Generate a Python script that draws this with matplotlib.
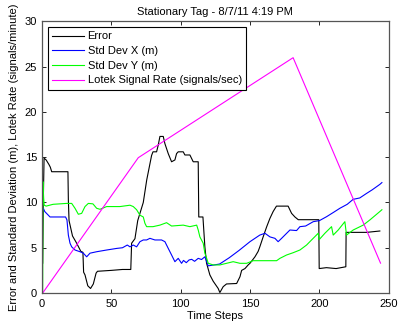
import matplotlib
matplotlib.use("Agg")
import matplotlib.pyplot as plt

plt.rcParams['font.family'] = ['Liberation Sans', 'DejaVu Sans']

title = "Stationary Tag - 8/7/11 4:19 PM"
xlabel = "Time Steps"
ylabel = "Error and Standard Deviation (m), Lotek Rate (signals/minute)"
labels = ["Error", "Std Dev X (m)", "Std Dev Y (m)", "Lotek Signal Rate (signals/sec)"]
xticks = [0, 50, 100, 150, 200, 250]
yticks = [0, 5, 10, 15, 20, 25, 30]

err_x = [0.5, 1, 1.5, 3, 5, 6, 7, 18.7, 19, 19.5, 22, 25, 28, 29.5, 30, 31, 33, 35, 37, 39,
         40, 50, 58, 64, 64.6, 67, 69, 73, 75.5, 79, 80, 82.6, 83.8, 85, 87.4, 88.6, 91, 93.4,
         95.8, 97, 98.2, 101.8, 103, 106.6, 109, 112.6, 113, 116, 117.4, 118.6, 121, 123.4,
         127, 128.2, 130.6, 133, 140.3, 142.7, 143.9, 146.3, 148.6, 150, 153.5, 155.8, 157,
         159.4, 161.9, 164.3, 166.6, 169, 177.4, 179.9, 182.3, 184.7, 199.5, 199.8, 205, 212,
         219, 219.2, 226, 234, 243.5]
err_y = [3.3, 10.6, 14.9, 14.7, 14.2, 13.9, 13.4, 13.4, 10.3, 8.0, 6.3, 5.5, 4.6, 4.5, 2.3, 2.0,
         0.8, 0.5, 1.0, 2.2, 2.4, 2.5, 2.6, 2.6, 5.5, 6.0, 8.0, 10.0, 12.5, 15.2, 15.6, 15.6,
         16.35, 17.3, 17.3, 16.5, 15.4, 14.5, 14.7, 15.4, 15.6, 15.6, 15.25, 15.25, 14.5, 14.5,
         8.4, 8.4, 5.1, 3.3, 2.0, 1.3, 0.5, 0.05, 0.7, 1.0, 1.05, 1.8, 2.5, 2.7, 3.1, 3.3, 4.0,
         4.6, 5.1, 6.2, 7.3, 8.25, 9.0, 9.6, 9.6, 8.8, 8.4, 8.1, 8.1, 2.7, 2.8, 2.7, 2.9, 6.7,
         6.7, 6.7, 6.85]

sdx_x = [1, 2, 5.8, 17, 18, 19, 20.2, 21.4, 23.8, 27.4, 29.8, 32.2, 34.6, 39.4, 46.6, 54, 58,
         61.5, 63.4, 65.8, 68.2, 70.6, 73, 75.4, 77.8, 81.4, 86.2, 88.6, 91, 93.4, 95.8, 98.2,
         100.6, 102, 104, 106, 107.9, 110, 112.6, 115, 117.4, 119.8, 124, 128, 135, 142, 149.9,
         157, 160.7, 164.3, 167.9, 170.2, 172.7, 178.7, 183.5, 185.9, 190, 195.5, 200, 205.1,
         210, 214.7, 220, 224.3, 229, 233.9, 238, 243.5, 245]
sdx_y = [9.35, 9.0, 8.4, 8.4, 8.07, 6.4, 5.5, 5.1, 4.75, 4.56, 4.4, 4.0, 4.4, 4.56, 4.75, 4.93,
         5.0, 5.3, 5.1, 5.3, 5.1, 5.67, 5.86, 5.86, 6.04, 5.86, 5.86, 5.67, 4.93, 4.2, 3.46, 3.83,
         3.28, 3.6, 3.35, 3.65, 3.72, 3.5, 3.83, 3.7, 4.0, 3.0, 3.1, 3.2, 3.9, 4.7, 5.67, 6.4,
         6.6, 6.2, 6.04, 5.67, 6.04, 6.96, 6.9, 7.33, 7.4, 7.88, 8.0, 8.43, 8.9, 9.36, 9.8,
         10.35, 10.5, 11.0, 11.4, 12.0, 12.2]

sdy_x = [0.5, 0.7, 1.2, 1.6, 3, 8, 17.8, 21.4, 23.8, 26.2, 28.6, 31, 33.4, 36.7, 39.4, 41.8,
         46.6, 56.2, 63.4, 65.8, 68.2, 70.6, 73, 74.2, 75.4, 80, 85, 89.8, 93.4, 101.8, 106.6,
         111.5, 112.6, 113.8, 116.2, 117.4, 118.7, 119.8, 123.4, 128.2, 133, 137.8, 142.7,
         147.5, 152.2, 161.9, 169.1, 171.5, 176.3, 181, 185.9, 190.7, 194.3, 199.1, 199.8,
         203.9, 208.7, 209.9, 213.5, 218.3, 219.5, 224.3, 231.5, 236.3, 243.5, 245]
sdy_y = [0, 12.3, 10.5, 9.7, 9.6, 9.8, 9.9, 9.9, 9.36, 8.7, 8.8, 9.55, 9.9, 9.85, 9.36, 9.25,
         9.55, 9.55, 9.7, 9.55, 9.2, 8.6, 8.4, 7.7, 7.33, 7.33, 7.5, 7.77, 7.4, 7.5, 7.33, 7.5,
         6.96, 6.2, 5.5, 4.4, 3.83, 3.28, 3.1, 3.1, 3.28, 3.46, 3.28, 3.28, 3.57, 3.57, 3.57,
         3.83, 4.2, 4.45, 4.75, 5.3, 5.86, 6.6, 5.9, 6.6, 7.33, 6.4, 6.96, 7.88, 6.4, 6.96,
         7.5, 8.07, 9.0, 9.2]

rate_x = [0.5, 69.4, 181, 244]
rate_y = [0, 14.95, 26.0, 3.3]

fig = plt.figure(figsize=(3.98, 3.28), dpi=100)
ax = fig.add_axes([0.1055, 0.1067, 0.8715, 0.8278])

lw = 0.8
ax.plot(err_x, err_y, color='black', lw=lw, label=labels[0])
ax.plot(sdx_x, sdx_y, color='#0000ff', lw=lw, label=labels[1])
ax.plot(sdy_x, sdy_y, color='#00ff00', lw=lw, label=labels[2])
ax.plot(rate_x, rate_y, color='#ff00ff', lw=lw, label=labels[3])

ax.set_xlim(0, 250)
ax.set_ylim(0, 30)
ax.set_xticks(xticks)
ax.set_yticks(yticks)
ax.tick_params(axis='x', pad=4)
ax.tick_params(direction='in', length=3, width=0.6, top=True, right=True, labelsize=8)
for s in ax.spines.values():
    s.set_color('#555555')
    s.set_linewidth(0.9)

ax.set_title(title, fontsize=8, pad=5)
ax.set_xlabel(xlabel, fontsize=8, labelpad=2)
ax.set_ylabel(ylabel, fontsize=8, labelpad=4)

leg = ax.legend(loc='upper left', fontsize=8, handlelength=2.9, handletextpad=0.3,
                labelspacing=0.42, borderpad=0.4, borderaxespad=0.5, fancybox=False,
                framealpha=1, edgecolor='black')
leg.get_frame().set_linewidth(0.8)

fig.savefig("out.png", dpi=100)
